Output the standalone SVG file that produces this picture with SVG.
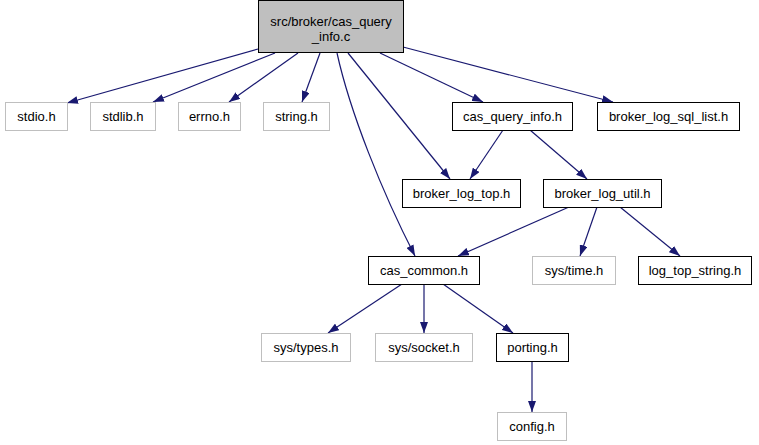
<svg xmlns="http://www.w3.org/2000/svg" width="759" height="445" viewBox="0 0 759 445">
<style>
.n rect{fill:#fff;stroke:#000;stroke-width:1}
.g rect{fill:#fff;stroke:#bfbfbf;stroke-width:1}
.top rect{fill:#bfbfbf;stroke:#000;stroke-width:1}
text{font-family:"Liberation Sans",Arial,Helvetica,sans-serif;font-size:13px;fill:#000;text-anchor:middle}
.e path{fill:none;stroke:#191970;stroke-width:1.2}
</style>
<defs>
<marker id="ah" viewBox="0 0 11 8" refX="11" refY="4" markerWidth="11" markerHeight="8" markerUnits="userSpaceOnUse" orient="auto">
<path d="M0,0 L11,4 L0,8 z" fill="#191970"/>
</marker>
</defs>
<rect width="759" height="445" fill="#fff"/>
<g id="edges" class="e">
<path marker-end="url(#ah)" d="M258,49 L67,103"/>
<path marker-end="url(#ah)" d="M275,53 L153,102"/>
<path marker-end="url(#ah)" d="M298,53 L229,102"/>
<path marker-end="url(#ah)" d="M320,53 L302,102"/>
<path marker-end="url(#ah)" d="M380,53 L483,102"/>
<path marker-end="url(#ah)" d="M403,47 L613,102"/>
<path marker-end="url(#ah)" d="M348,53 L450,179"/>
<path marker-end="url(#ah)" d="M337,53 C350,112 382,192 415,256"/>
<path marker-end="url(#ah)" d="M503,130 L470,179"/>
<path marker-end="url(#ah)" d="M530,130 L587,179"/>
<path marker-end="url(#ah)" d="M569,207 L458,256"/>
<path marker-end="url(#ah)" d="M597,207 L580,256"/>
<path marker-end="url(#ah)" d="M620,207 L680,256"/>
<path marker-end="url(#ah)" d="M402,284 L328,333"/>
<path marker-end="url(#ah)" d="M424,284 L424,333"/>
<path marker-end="url(#ah)" d="M443,284 L513,333"/>
<path marker-end="url(#ah)" d="M532,362 L532,412"/>
</g>
<g id="node_top" class="top"><rect x="258.5" y="0.5" width="145" height="52"/><text x="331" y="25.5">src/broker/cas_query</text><text x="331" y="41">_info.c</text></g>
<g id="node_stdio" class="g"><rect x="5.5" y="102.5" width="62" height="28"/><text x="36.5" y="121">stdio.h</text></g>
<g id="node_stdlib" class="g"><rect x="90.5" y="102.5" width="65" height="28"/><text x="123" y="121">stdlib.h</text></g>
<g id="node_errno" class="g"><rect x="178.5" y="102.5" width="62" height="28"/><text x="209.5" y="121">errno.h</text></g>
<g id="node_string" class="g"><rect x="263.5" y="102.5" width="66" height="28"/><text x="296.5" y="121">string.h</text></g>
<g id="node_cas_query_info" class="n"><rect x="452.5" y="102.5" width="120" height="28"/><text x="512.5" y="121">cas_query_info.h</text></g>
<g id="node_broker_log_sql_list" class="n"><rect x="597.5" y="102.5" width="142" height="28"/><text x="668.5" y="121">broker_log_sql_list.h</text></g>
<g id="node_broker_log_top" class="n"><rect x="402.5" y="179.5" width="118" height="28"/><text x="461.5" y="198">broker_log_top.h</text></g>
<g id="node_broker_log_util" class="n"><rect x="543.5" y="179.5" width="118" height="28"/><text x="602.5" y="198">broker_log_util.h</text></g>
<g id="node_cas_common" class="n"><rect x="368.5" y="256.5" width="111" height="28"/><text x="424" y="275">cas_common.h</text></g>
<g id="node_sys_time" class="g"><rect x="532.5" y="256.5" width="83" height="28"/><text x="574" y="275">sys/time.h</text></g>
<g id="node_log_top_string" class="n"><rect x="638.5" y="256.5" width="113" height="28"/><text x="695" y="275">log_top_string.h</text></g>
<g id="node_sys_types" class="g"><rect x="261.5" y="333.5" width="89" height="28"/><text x="306" y="352">sys/types.h</text></g>
<g id="node_sys_socket" class="g"><rect x="375.5" y="333.5" width="97" height="28"/><text x="424" y="352">sys/socket.h</text></g>
<g id="node_porting" class="n"><rect x="496.5" y="333.5" width="72" height="28"/><text x="532.5" y="352">porting.h</text></g>
<g id="node_config" class="g"><rect x="497.5" y="412.5" width="69" height="28"/><text x="532" y="431">config.h</text></g>
</svg>
